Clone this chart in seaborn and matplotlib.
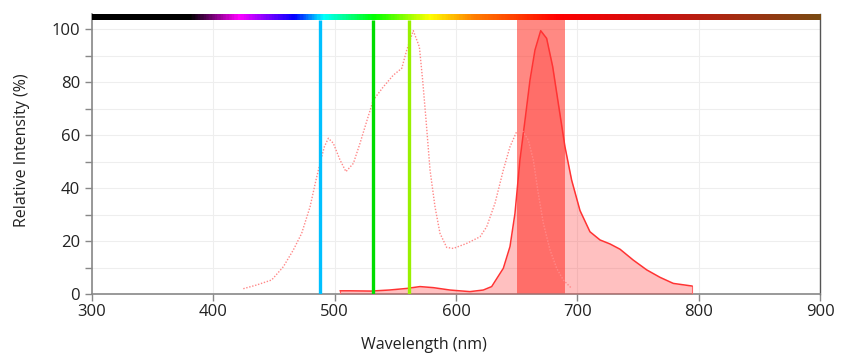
import numpy as np
import pandas as pd
import matplotlib
matplotlib.use("Agg")
import matplotlib.pyplot as plt
import seaborn as sns
from matplotlib.colors import LinearSegmentedColormap

# ---- data ----
ex_wl = [424.7, 435.7, 448.1, 457.7, 465.9, 472.8, 479.7, 484.6, 487.9, 491.5, 494.8,
         498.9, 504.4, 509.3, 515.4, 520.9, 525.0, 531.8, 540.1, 548.3, 555.3, 559.4,
         564.8, 569.8, 572.5, 575.3, 578.6, 582.7, 586.8, 592.3, 597.8, 608.8, 619.8,
         625.3, 632.1, 639.0, 644.5, 650.0, 654.1, 659.6, 663.7, 667.8, 672.0, 677.5,
         683.0, 688.4, 695.3]
ex_val = [2.0, 3.4, 5.3, 10.3, 16.6, 22.9, 32.9, 43.0, 49.3, 55.6, 58.8,
          56.9, 50.6, 46.2, 49.3, 56.9, 63.1, 73.2, 78.2, 82.6, 85.2, 92.1,
          99.4, 93.3, 80.8, 65.7, 46.8, 32.9, 22.9, 17.6, 17.2, 19.1, 21.6,
          25.4, 34.2, 46.8, 55.6, 61.3, 62.1, 58.1, 50.6, 38.0, 26.7, 16.6,
          9.7, 5.3, 2.1]
em_wl = [504.4, 512.6, 530.0, 545.0, 559.4, 570.3, 581.3, 595.0, 603.0, 611.5, 622.5,
         629.4, 639.0, 644.5, 648.6, 652.7, 656.9, 661.0, 665.1, 669.8, 674.7, 679.7,
         684.3, 689.8, 695.3, 702.2, 710.4, 718.7, 726.9, 735.2, 746.1, 757.2, 768.1,
         779.1, 794.7]
em_val = [1.2, 1.2, 1.1, 1.5, 2.1, 2.8, 2.4, 1.5, 1.2, 0.9, 1.5,
          2.8, 9.7, 17.9, 30.4, 50.6, 65.7, 80.8, 92.1, 99.4, 96.5, 85.8,
          72.0, 55.6, 43.0, 31.5, 23.5, 20.4, 18.9, 16.9, 12.8, 9.1, 6.3,
          4.0, 3.0]
laser_wl = [488, 532, 561]
laser_colors = ["#00C0FF", "#00DD00", "#99F000"]
filter_band = (650, 690)

spec_nm = [300, 380, 420, 466, 490, 532, 578, 614, 683, 768, 900]
spec_col = ["#000000", "#000000", "#FF00FF", "#0000FF", "#00FFFF", "#00FF00",
            "#FFFF00", "#FF8000", "#FF0000", "#CC1010", "#7A4A12"]

xticks = [300, 400, 500, 600, 700, 800, 900]
yticks = [0, 20, 40, 60, 80, 100]

# ---- style ----
sns.set_style("white")
plt.rcParams['font.family'] = ['Open Sans', 'DejaVu Sans']

fig = plt.figure(figsize=(8.47, 3.63), dpi=100)
ax = fig.add_axes([92/847, 1-294/363, (820-92)/847, (294-14)/363])

ex_df = pd.DataFrame({"wl": ex_wl, "val": ex_val})
em_df = pd.DataFrame({"wl": em_wl, "val": em_val})

# filter band
ax.axvspan(filter_band[0], filter_band[1], ymin=0, ymax=103.4/105.7,
           color="#FF3B30", alpha=0.6, lw=0, zorder=2)

# emission
ax.fill_between(em_wl, em_val, 0, color="#FF3030", alpha=0.3, lw=0, zorder=3)
ax.plot([em_wl[-1], em_wl[-1]], [0, em_val[-1]], color="#FF6666", lw=0.8, zorder=3)
ax.plot([em_wl[0], em_wl[0]], [0, em_val[0]], color="#FF6666", lw=0.8, zorder=3)
sns.lineplot(data=em_df, x="wl", y="val", ax=ax, color="#FF3333", lw=1.1, zorder=4,
             sort=False)

# excitation
sns.lineplot(data=ex_df, x="wl", y="val", ax=ax, color="#FF8888", lw=1.0,
             linestyle=(0, (1, 1.2)), zorder=4, sort=False)

# lasers
for wl, c in zip(laser_wl, laser_colors):
    ax.plot([wl, wl], [0, 103.4], color=c, lw=2.4, zorder=5, solid_capstyle="butt")

# spectrum bar
pos = [(n - 300) / 600 for n in spec_nm]
cmap = LinearSegmentedColormap.from_list("spec", list(zip(pos, spec_col)))
grad = np.linspace(0, 1, 600).reshape(1, -1)
ax.imshow(grad, cmap=cmap, aspect="auto", extent=[300, 900, 103.4, 105.7],
          zorder=6, interpolation="bilinear")

ax.set_xlim(300, 900)
ax.set_ylim(0, 105.7)
ax.set_xticks(xticks)
ax.set_yticks(yticks)
ax.set_yticks([10, 30, 50, 70, 90], minor=True)
ax.grid(True, which="both", color="#EEEEEE", lw=0.8, zorder=0)
ax.set_axisbelow(True)

ax.spines["top"].set_visible(False)
for s in ["left", "bottom"]:
    ax.spines[s].set_color("#888888")
    ax.spines[s].set_linewidth(1.2)
ax.spines["right"].set_color("#555555")
ax.spines["right"].set_linewidth(1.0)

ax.tick_params(axis="both", which="both", direction="out", length=5, width=1,
               color="#888888", labelsize=12, labelcolor="#222222", left=True, bottom=True)
ax.tick_params(axis="x", pad=2)
ax.set_xlabel("")
ax.set_ylabel("")
fig.text(424/847, 1-345/363, "Wavelength (nm)", fontsize=11.5, color="#222222",
         ha="center", va="center")
fig.text(22/847, 1-150/363, "Relative Intensity (%)", fontsize=11.5, color="#222222",
         ha="center", va="center", rotation=90)

fig.savefig("out.png", dpi=100)
